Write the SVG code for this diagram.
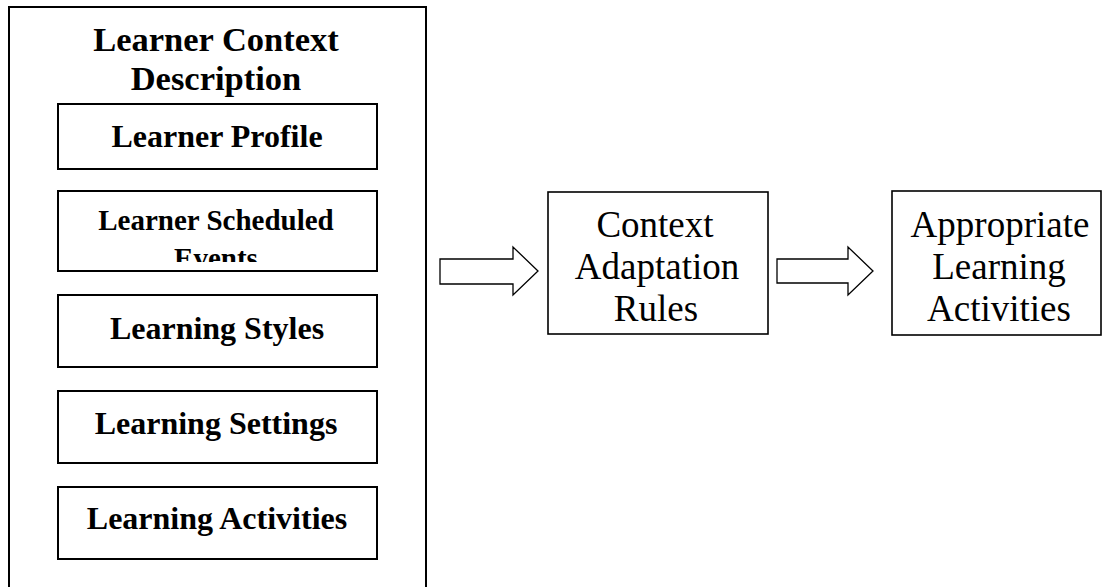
<svg xmlns="http://www.w3.org/2000/svg" width="1102" height="587" viewBox="0 0 1102 587">
<style>
.box{fill:#fff;stroke:#000;stroke-width:2}
.arrow{fill:#fff;stroke:#000;stroke-width:1.3;stroke-linejoin:miter}
.b{font-family:"Liberation Serif",serif;font-weight:bold;font-size:32px;text-anchor:middle;fill:#000}
.r{font-family:"Liberation Serif",serif;font-size:37px;text-anchor:middle;fill:#000}
</style>
<defs>
<clipPath id="clipSched"><rect x="58" y="191" width="319" height="71"/></clipPath>
</defs>
<rect width="1102" height="587" fill="#fff"/>
<g id="learner-context">
<path class="box" d="M9,592 V7 H426 V592" fill="none"/>
<text class="b" x="216" y="51" style="font-size:34.5px">Learner Context</text>
<text class="b" x="216" y="90" style="font-size:34.5px">Description</text>
</g>
<g id="learner-profile">
<rect class="box" x="58" y="104" width="319" height="65"/>
<text class="b" x="217" y="147">Learner Profile</text>
</g>
<g id="learner-scheduled-events">
<rect class="box" x="58" y="191" width="319" height="80"/>
<g clip-path="url(#clipSched)">
<text class="b" x="216" y="230" style="font-size:29px">Learner Scheduled</text>
<text class="b" x="216" y="268" style="font-size:29px">Events</text>
</g>
</g>
<g id="learning-styles">
<rect class="box" x="58" y="295" width="319" height="72"/>
<text class="b" x="217" y="339">Learning Styles</text>
</g>
<g id="learning-settings">
<rect class="box" x="58" y="391" width="319" height="72"/>
<text class="b" x="216" y="434">Learning Settings</text>
</g>
<g id="learning-activities">
<rect class="box" x="58" y="487" width="319" height="72"/>
<text class="b" x="217" y="529">Learning Activities</text>
</g>
<g id="context-adaptation-rules">
<rect class="box" x="548" y="192" width="220" height="142" style="stroke-width:1.6"/>
<text class="r" x="655" y="237">Context</text>
<text class="r" x="657" y="279">Adaptation</text>
<text class="r" x="656" y="321">Rules</text>
</g>
<g id="appropriate-learning-activities">
<rect class="box" x="892" y="191" width="209" height="144" style="stroke-width:1.6"/>
<text class="r" x="1000" y="237">Appropriate</text>
<text class="r" x="999" y="279">Learning</text>
<text class="r" x="999" y="321">Activities</text>
</g>
<g id="connectors">
<path class="arrow" d="M440,259 H513 V247 L538,271 L513,295 V284 H440 Z"/>
<path class="arrow" d="M777,259 H848 V247 L873,271 L848,295 V283 H777 Z"/>
</g>
</svg>
